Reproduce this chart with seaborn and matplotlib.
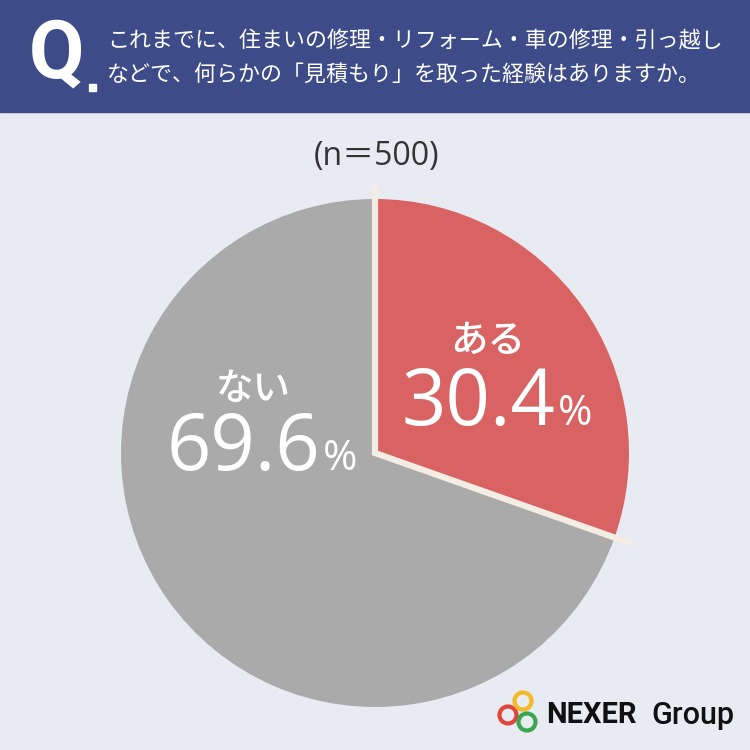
import numpy as np
import seaborn as sns
import matplotlib.pyplot as plt
from matplotlib.patches import Rectangle, Circle

# Data
labels = ["ある", "ない"]
values = [30.4, 69.6]
n_total = 500
question = ["これまでに、住まいの修理・リフォーム・車の修理・引っ越し",
            "などで、何らかの「見積もり」を取った経験はありますか。"]

# Colours
BG = "#E8EBF1"
HEADER = "#3D4B89"
SLICE_COLORS = ["#D96262", "#AAAAAA"]
SEP = "#F3EDE3"

sns.set_theme(style="white")
plt.rcParams['font.family'] = ['Noto Sans CJK JP', 'DejaVu Sans']
LATIN = ["Open Sans", "DejaVu Sans"]

fig = plt.figure(figsize=(7.5, 7.5), dpi=100)
fig.patch.set_facecolor(BG)

# Overlay axes in pixel coordinates for header / logo
bg = fig.add_axes([0, 0, 1, 1])
bg.set_xlim(0, 750)
bg.set_ylim(750, 0)
bg.axis("off")
bg.add_patch(Rectangle((0, 0), 750, 112, color=HEADER, zorder=1))
bg.text(56, 55, "Q", color="white", fontsize=58, fontweight="bold",
        ha="center", va="center", family=["Roboto", "DejaVu Sans"], zorder=2)
bg.add_patch(Rectangle((89, 84), 7, 7, color="white", zorder=2))
bg.text(107, 42, question[0], color="white", fontsize=15.8, ha="left", va="center", zorder=2)
bg.text(107, 75, question[1], color="white", fontsize=15.8, ha="left", va="center", zorder=2)

bg.text(377, 157, f"(n＝{n_total})", color="#333333", fontsize=23, ha="center", va="center",
        family=LATIN + ["Noto Sans CJK JP"])

# Logo
for (cx, cy), col in zip([(508, 715), (523, 701), (527, 722)],
                         ["#E0443A", "#F2B928", "#3BA650"]):
    bg.add_patch(Circle((cx, cy), 8.5, fill=False, lw=3, edgecolor=col, zorder=3))
bg.text(546, 715, "NEXER", color="#111111", fontsize=21, fontweight="bold",
        ha="left", va="center", family=["Roboto", "DejaVu Sans"])
bg.text(651, 715, "Group", color="#111111", fontsize=22, fontweight="medium",
        ha="left", va="center", family=["Roboto", "DejaVu Sans"])

# Pie axes: centre at (375, 453) px, radius 254 px
R = 254
span = 2.2 * R
ax = fig.add_axes([(375 - span / 2) / 750, (750 - 453 - span / 2) / 750, span / 750, span / 750])
ax.pie(values, colors=SLICE_COLORS, startangle=90, counterclock=False,
       wedgeprops=dict(linewidth=0))
ax.set_xlim(-1.1, 1.1)
ax.set_ylim(-1.1, 1.1)
ax.set_aspect("equal")
ax.axis("off")

# Separator lines at slice boundaries
bound = np.deg2rad(90 - 360 * values[0] / sum(values))
ax.plot([0, 0, 1.07 * np.cos(bound)], [1.055, 0, 1.07 * np.sin(bound)],
        color=SEP, lw=4.5, solid_joinstyle="miter", solid_capstyle="butt", zorder=5)

# Labels
def px(x, y):
    return ((x - 375) / R, (453 - y) / R)

def put_label(name, pct, name_xy, split_xy):
    ax.text(*px(*name_xy), name, color="white", fontsize=27, fontweight="medium",
            ha="center", va="center", zorder=6)
    ax.text(*px(*split_xy), f"{pct:.1f}", color="white", fontsize=56, family=LATIN,
            fontweight="medium", ha="right", va="baseline", zorder=6)
    ax.text(*px(split_xy[0] + 3, split_xy[1]), "%", color="white", fontsize=30, family=LATIN,
            ha="left", va="baseline", zorder=6)

put_label(labels[0], values[0], (488, 341), (555, 425))
put_label(labels[1], values[1], (253, 389), (320, 470))

fig.savefig("out.png", dpi=100, facecolor=fig.get_facecolor())
